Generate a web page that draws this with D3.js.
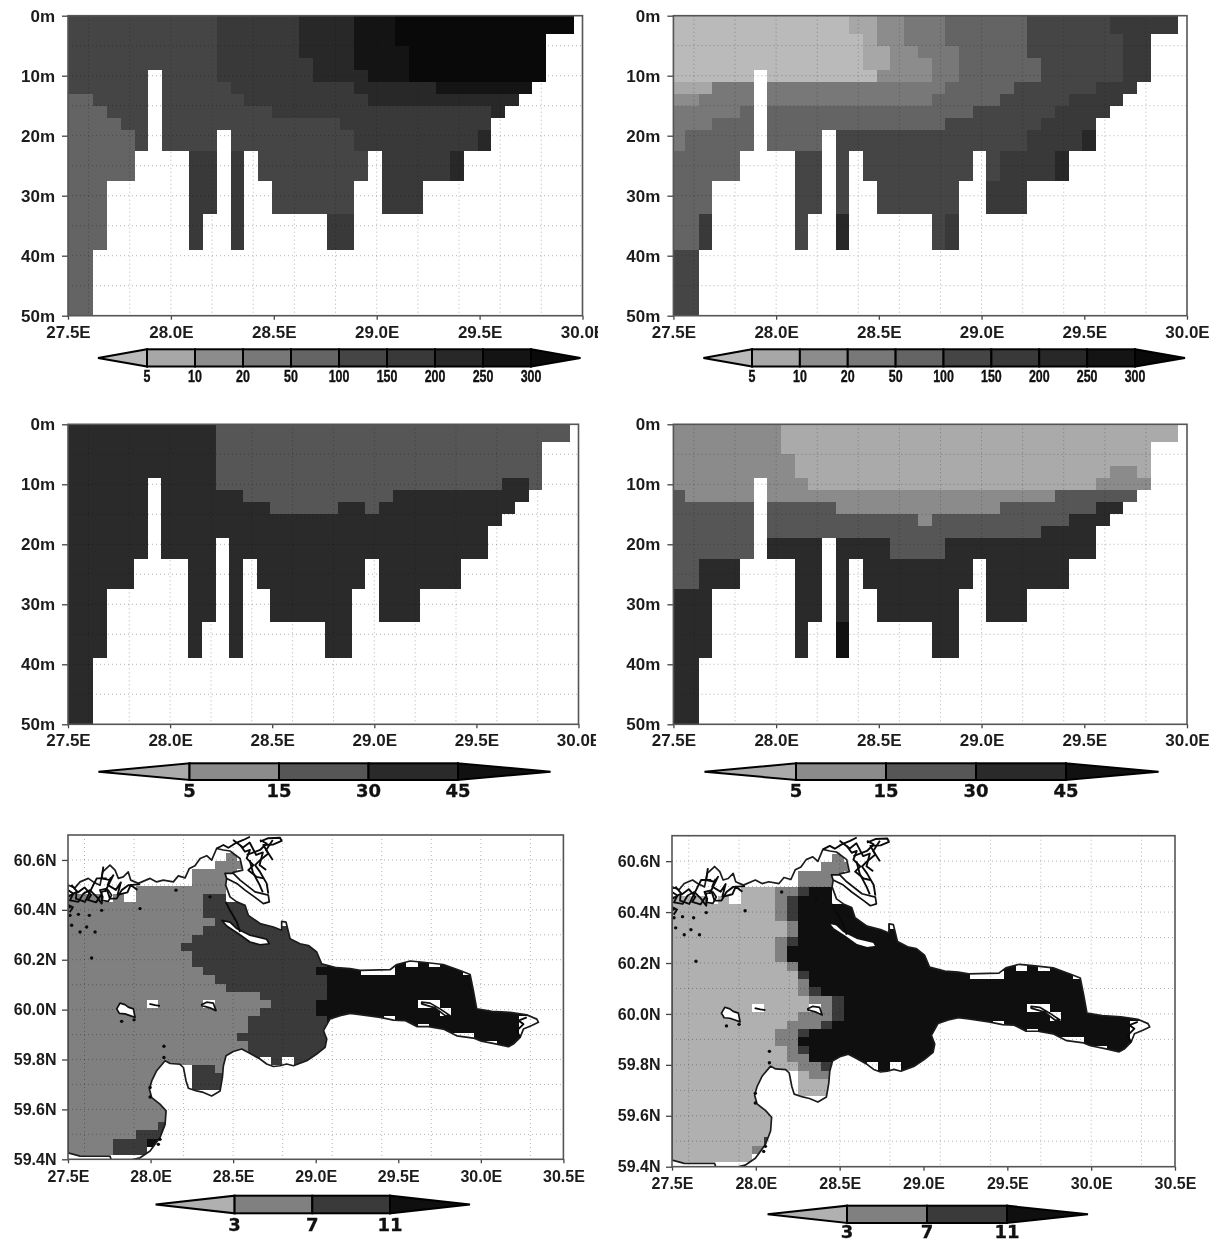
<!DOCTYPE html>
<meta charset="utf-8">
<style>
  body { margin: 0; background: #fff; }
  .axis text { font-family: "Liberation Sans", Arial, sans-serif; font-weight: bold; fill: #1c1c1c; }
  .axis path { display: none; }
  .axis line { stroke: #444; stroke-width: 1.3px; }
  .frame { fill: none; stroke: #555; stroke-width: 1.6px; }
  .grid { stroke: #b4b4b4; stroke-width: 1px; stroke-dasharray: 1 3; mix-blend-mode: multiply; }
  .cell { shape-rendering: crispEdges; }
  .coast { fill: none; stroke: #1c1c1c; stroke-width: 1.7px; stroke-linejoin: round; }
  .tangle { fill: none; stroke: #0a0a0a; stroke-width: 1.9px; stroke-linejoin: round; }
  .islet { fill: #fff; stroke: #111; stroke-width: 1.7px; stroke-linejoin: round; }
  .bar { stroke: #000; stroke-width: 2px; stroke-linejoin: miter; }
</style>

<body>
  <script src="https://d3js.org/d3.v7.min.js"></script>
  <div id="chart"></div>
  <script>
    // depth section grid
    var depthEdges = [0, 3, 5, 7, 9, 11, 13, 15, 17, 19, 22.5, 27.5, 33, 39, 50]
    // how many depth layers hold water in each longitude column
    var sectionBottom = [14, 14, 13, 11, 11, 10, 4, 10, 10, 13, 12, 9, 13, 10, 11, 12, 12, 12, 12, 13, 13, 11, 10, 12, 12, 12, 11, 11, 11, 10, 10, 8, 7, 6, 5, 1, 1]

    // each row is one depth layer, written as "class:endColumn" runs
    var sectionTopLeft = [
      "5:11 6:17 7:21 8:24 9:37", "5:11 6:17 7:21 8:24 9:37", "5:11 6:17 7:21 8:25 9:37",
      "5:11 6:18 7:21 8:25 9:37", "5:11 6:18 7:22 8:25 9:37", "5:12 6:21 7:27 8:37",
      "4:2 5:13 6:22 7:37", "4:3 5:15 6:31 7:37", "4:4 5:20 6:37", "4:5 5:21 6:30 7:37",
      "4:5 5:9 6:13 5:22 6:28 7:37", "4:5 6:13 5:22 6:37", "4:5 6:37", "4:37"]
    var sectionTopRight = [
      "0:13 1:15 2:17 3:20 4:26 5:32 6:37", "0:14 1:15 2:17 3:20 4:26 5:33 6:37", "0:14 1:16 2:18 3:21 4:26 5:33 6:37",
      "0:14 1:16 2:19 3:21 4:27 5:33 6:37", "0:15 2:19 3:21 4:27 5:33 6:37", "1:3 3:20 4:25 5:31 6:37",
      "2:2 3:19 4:24 5:29 6:37", "3:5 4:22 5:28 6:37", "3:3 4:20 5:27 6:37", "3:1 4:11 5:26 6:30 7:37",
      "4:5 5:24 6:28 7:37", "4:3 5:23 6:37", "4:2 6:3 5:12 7:13 5:20 6:37", "5:37"]
    var sectionMidLeft = [
      "3:11 2:37", "3:11 2:37", "3:11 2:37", "3:11 2:37", "3:11 2:32 3:34 2:37", "3:13 2:24 3:37",
      "3:15 2:20 3:22 2:23 3:37", "3:37", "3:37", "3:37", "3:37", "3:37", "3:37", "3:37"]
    var sectionMidRight = [
      "1:8 0:37", "1:8 0:37", "1:9 0:37", "1:9 0:32 1:34 0:37", "1:10 0:31 1:37", "2:1 1:28 2:37",
      "2:12 1:24 2:31 3:37", "2:18 1:19 2:29 3:37", "2:27 3:37", "2:7 3:16 2:20 3:37",
      "2:2 3:37", "3:37", "3:12 4:13 3:37", "3:37"]

    // map panels, one row per latitude band from the north
    var mapLeft = [
      ".:44", ".:44", ".:14 1:15 .:44", ".:13 1:16 .:44", ".:11 1:15 .:44", ".:11 1:14 .:15 1:16 .:44",
      ".:6 1:14 .:44", "1:3 .:4 1:5 .:6 1:12 2:14 .:44", "1:12 2:17 .:44", "1:12 2:18 .:44",
      "1:13 2:19 .:44", "1:12 2:20 .:44", "1:11 2:22 .:44", "1:10 2:23 .:44", "1:11 2:23 .:44",
      "1:11 2:23 3:44", "1:12 2:22 3:44", "1:13 2:23 3:44", "1:14 2:23 3:44", "1:17 2:23 3:44",
      "1:18 2:22 3:44", "1:17 2:22 3:44", "1:16 2:23 3:40 .:44", "1:16 2:24 3:40 .:44", "1:15 2:24 3:40 .:44",
      "1:16 2:24 3:40 .:44", "1:16 2:24 3:40 .:44", "1:14 .:16 2:17 .:18 2:19 .:20 2:24 .:44",
      "1:9 .:11 2:13 1:14 .:44", "1:9 .:11 2:14 .:44", "1:9 .:11 2:14 .:44", "1:9 .:44", "1:9 .:44",
      "1:9 .:44", "1:9 .:44", "1:8 2:9 .:44", "1:6 2:9 .:44", "1:4 2:7 3:8 2:9 .:44", "1:4 2:7 .:44", ".:44"]
    var mapRight = [
      ".:44", ".:44", ".:14 1:15 .:44", ".:13 1:16 .:44", ".:11 1:15 .:44", ".:11 1:14 .:15 2:16 .:44",
      ".:6 0:9 1:11 2:12 3:14 .:44", "0:3 .:4 0:5 .:6 0:9 1:10 2:11 3:14 .:44", "0:9 1:10 2:11 3:17 .:44",
      "0:9 1:10 2:11 3:18 .:44", "0:10 1:11 3:19 .:44", "0:10 1:11 3:20 .:44", "0:9 1:10 2:11 3:22 .:44",
      "0:9 1:10 3:23 .:44", "0:9 1:10 3:23 .:44", "0:10 1:11 3:44", "0:11 2:12 3:44", "0:11 1:12 3:44",
      "0:11 1:12 2:13 3:44", "0:12 1:14 2:15 3:44", "0:13 1:14 2:15 3:44", "0:11 1:14 2:15 3:44",
      "0:10 1:13 2:14 3:40 .:44", "0:9 1:11 2:12 3:40 .:44", "0:9 1:11 3:40 .:44", "0:10 1:11 2:12 3:40 .:44",
      "0:10 1:12 3:40 .:44", "0:11 1:13 2:14 .:16 3:17 .:18 3:19 .:20 3:24 .:44", "0:9 .:11 0:12 1:14 .:44",
      "0:9 .:11 0:14 .:44", "0:9 .:11 0:14 .:44", "0:9 .:44", "0:9 .:44", "0:9 .:44", "0:9 .:44", "0:9 .:44",
      "0:8 2:9 .:44", "0:7 1:8 2:9 .:44", "0:7 .:44", ".:44"]
    // cells [column, row] with no data next to the shore, same in both maps
    var landCells = [[26, 16], [27, 16], [28, 16], [35, 16], [30, 15], [32, 15], [31, 20], [32, 20], [33, 21],
      [28, 22], [31, 23], [34, 24], [35, 24], [37, 25], [7, 20], [12, 20]]

    // coastline, lon / lat
    var coastLon = [27.5, 27.542, 27.573, 27.623, 27.653, 27.694, 27.71, 27.754, 27.785, 27.805, 27.835, 27.865, 27.88, 27.926, 27.997, 28.037, 28.077, 28.138, 28.168, 28.209, 28.235, 28.269, 28.3, 28.34, 28.37, 28.4, 28.441, 28.481, 28.542, 28.558, 28.501, 28.461, 28.455, 28.481, 28.522, 28.572, 28.592, 28.663, 28.744, 28.794, 28.794, 28.82, 28.845, 28.905, 28.956, 29.006, 29.036, 29.127, 29.208, 29.269, 29.45, 29.491, 29.572, 29.652, 29.773, 29.874, 29.935, 29.955, 29.975, 30.066, 30.177, 30.278, 30.339, 30.349, 30.308, 30.258, 30.238, 30.197, 30.167, 30.096, 29.996, 29.955, 29.854, 29.773, 29.683, 29.612, 29.541, 29.471, 29.39, 29.269, 29.208, 29.148, 29.087, 29.047, 29.067, 29.057, 29.006, 28.946, 28.865, 28.824, 28.784, 28.744, 28.703, 28.663, 28.592, 28.552, 28.501, 28.457, 28.441, 28.435, 28.421, 28.37, 28.32, 28.279, 28.229, 28.215, 28.199, 28.178, 28.118, 28.088, 28.037, 28.007, 27.993, 28.007, 28.057, 28.094, 28.088, 28.057, 27.997, 27.936, 27.855, 27.764, 27.754, 27.573, 27.5]
    var coastLat = [60.499, 60.488, 60.512, 60.526, 60.512, 60.499, 60.552, 60.579, 60.559, 60.526, 60.532, 60.552, 60.519, 60.506, 60.526, 60.512, 60.519, 60.512, 60.536, 60.528, 60.566, 60.577, 60.606, 60.617, 60.599, 60.646, 60.64, 60.636, 60.606, 60.559, 60.55, 60.526, 60.499, 60.452, 60.432, 60.418, 60.378, 60.345, 60.331, 60.318, 60.354, 60.351, 60.284, 60.264, 60.257, 60.231, 60.184, 60.168, 60.164, 60.157, 60.16, 60.181, 60.195, 60.19, 60.181, 60.157, 60.141, 60.076, 60.003, 59.993, 59.989, 59.979, 59.962, 59.949, 59.936, 59.922, 59.889, 59.862, 59.851, 59.862, 59.875, 59.886, 59.895, 59.922, 59.932, 59.932, 59.956, 59.958, 59.969, 59.98, 59.985, 59.976, 59.963, 59.916, 59.882, 59.849, 59.822, 59.795, 59.775, 59.782, 59.775, 59.772, 59.782, 59.802, 59.828, 59.842, 59.832, 59.815, 59.775, 59.728, 59.674, 59.654, 59.668, 59.674, 59.685, 59.714, 59.768, 59.781, 59.784, 59.795, 59.755, 59.714, 59.681, 59.647, 59.621, 59.594, 59.54, 59.487, 59.433, 59.406, 59.393, 59.393, 59.413, 59.413, 59.426]

    // islands, closed outlines
    var islandBjorko = [[28.431, 60.358], [28.481, 60.351], [28.522, 60.325], [28.602, 60.298], [28.703, 60.282], [28.719, 60.264], [28.663, 60.26], [28.602, 60.271], [28.532, 60.304], [28.461, 60.335]]
    var islandNorth = [[28.451, 60.546], [28.501, 60.546], [28.542, 60.519], [28.633, 60.472], [28.713, 60.459], [28.719, 60.432], [28.683, 60.425], [28.643, 60.445], [28.572, 60.479], [28.522, 60.506], [28.461, 60.526]]
    var islandWest = [[27.795, 60.003], [27.815, 60.026], [27.845, 60.02], [27.865, 60.01], [27.896, 60.003], [27.906, 59.969], [27.876, 59.976], [27.845, 59.983], [27.811, 59.985]]
    var islandMiddle = [[28.31, 60.02], [28.34, 60.03], [28.38, 60.026], [28.396, 59.996], [28.36, 60.007], [28.31, 60.016]]
    var islandEast = [[29.642, 60.03], [29.693, 60.026], [29.753, 60.003], [29.814, 59.976], [29.784, 59.976], [29.723, 60.007], [29.642, 60.023]]
    var islandSkerry = [[27.704, 60.472], [27.744, 60.479], [27.764, 60.459], [27.744, 60.434], [27.704, 60.438]]
    var islands = [islandBjorko, islandNorth, islandWest, islandMiddle, islandEast, islandSkerry]

    // skerry scribbles that are open lines
    var skerryLines = [
      [[28.4, 60.646], [28.441, 60.66], [28.471, 60.649], [28.512, 60.666], [28.562, 60.68], [28.602, 60.693]],
      [[28.542, 60.66], [28.572, 60.633], [28.602, 60.64], [28.582, 60.606], [28.623, 60.579], [28.592, 60.559], [28.643, 60.532], [28.683, 60.526]],
      [[28.663, 60.673], [28.713, 60.687], [28.784, 60.689], [28.794, 60.676], [28.744, 60.662], [28.683, 60.66], [28.713, 60.626], [28.663, 60.599], [28.633, 60.579], [28.663, 60.552], [28.703, 60.506], [28.713, 60.465]],
      [[28.582, 60.62], [28.663, 60.64], [28.703, 60.666], [28.663, 60.68]],
      [[28.455, 60.432], [28.481, 60.398], [28.522, 60.351], [28.542, 60.311]],
      [[27.5, 60.479], [27.532, 60.465], [27.512, 60.438], [27.563, 60.432], [27.593, 60.465], [27.633, 60.479], [27.674, 60.452], [27.704, 60.425], [27.71, 60.452], [27.694, 60.479], [27.734, 60.485], [27.754, 60.445], [27.795, 60.445], [27.825, 60.479], [27.865, 60.499], [27.936, 60.502]],
      [[27.5, 60.452], [27.552, 60.472], [27.548, 60.445], [27.603, 60.432], [27.653, 60.499], [27.674, 60.526], [27.734, 60.526]],
      [[27.714, 60.573], [27.704, 60.526], [27.754, 60.519], [27.775, 60.539], [27.724, 60.472]],
      [[27.52, 60.5], [27.56, 60.47], [27.6, 60.49], [27.64, 60.46], [27.62, 60.44], [27.67, 60.43], [27.7, 60.46]],
      [[27.76, 60.53], [27.74, 60.5], [27.79, 60.48], [27.82, 60.51], [27.8, 60.46], [27.86, 60.47], [27.88, 60.5], [27.92, 60.48]],
      [[27.5, 60.42], [27.53, 60.41], [27.51, 60.39]],
      [[28.5, 60.68], [28.56, 60.65], [28.6, 60.67], [28.64, 60.62], [28.68, 60.63], [28.66, 60.58], [28.7, 60.56]],
      [[28.6, 60.6], [28.62, 60.55], [28.66, 60.5], [28.68, 60.47]],
      [[28.74, 60.68], [28.7, 60.64], [28.74, 60.6]],
      [[27.993, 60.023], [28.027, 60.018], [28.057, 60.015]],
      [[30.238, 59.889], [30.218, 59.916], [30.258, 59.942], [30.228, 59.956], [30.278, 59.969]]]
    var speckLon = [27.512, 27.508, 27.563, 27.629, 27.613, 27.573, 27.664, 27.522, 27.643, 27.936, 27.704, 28.154, 28.36, 28.081, 28.081, 27.997, 27.997, 27.825, 27.9, 28.057, 28.047]
    var speckLat = [60.378, 60.412, 60.382, 60.378, 60.331, 60.311, 60.311, 60.338, 60.207, 60.405, 60.398, 60.479, 60.452, 59.853, 59.808, 59.688, 59.65, 59.953, 59.959, 59.48, 59.46]

    // colour classes and colour bar labels
    var fluxGrays = ["#bababa", "#a7a7a7", "#8c8c8c", "#787878", "#646464", "#454545", "#393939", "#282828", "#141414", "#090909"]
    var fluxLabels = ["5", "10", "20", "50", "100", "150", "200", "250", "300"]
    var speedGrays = ["#aaaaaa", "#8b8b8b", "#565656", "#2a2a2a", "#111111"]
    var speedLabels = ["5", "15", "30", "45"]
    var mapGrays = ["#b0b0b0", "#808080", "#3a3a3a", "#0f0f0f"]
    var mapLabels = ["3", "7", "11"]

    // tick labels and dotted grid
    var sectionLonTicks = [27.5, 28, 28.5, 29, 29.5, 30]
    var sectionDepthTicks = [0, 10, 20, 30, 40, 50]
    var sectionGridLon = [27.6, 27.8, 28, 28.2, 28.4, 28.6, 28.8, 29, 29.2, 29.4, 29.6, 29.8]
    var sectionGridDepth = [5, 10, 15, 20, 25, 30, 35, 40, 45]
    var mapLonTicks = [27.5, 28, 28.5, 29, 29.5, 30, 30.5]
    var mapLatTicks = [59.4, 59.6, 59.8, 60, 60.2, 60.4, 60.6]
    var mapGridLon = [27.6, 27.9, 28.2, 28.5, 28.8, 29.1, 29.4, 29.7, 30, 30.3]
    var mapGridLat = [59.5, 59.6, 59.7, 59.8, 59.9, 60, 60.1, 60.2, 60.3, 60.4, 60.5, 60.6]

    var svg = d3.select("#chart").append("svg")
      .attr("width", 1221)
      .attr("height", 1240)
      .style("display", "block")

    var defs = svg.append("defs")
    var clipCount = 0

    function addClip(build) {
      var id = "clip" + (clipCount++)
      build(defs.append("clipPath").attr("id", id))
      return "url(#" + id + ")"
    }

    // "5:11 6:17" -> class per column
    function expandRuns(text) {
      var out = []
      text.split(" ").forEach(function (run) {
        var parts = run.split(":")
        while (out.length < +parts[1]) out.push(parts[0] === "." ? null : +parts[0])
      })
      return out
    }

    function drawAxes(p, x, y, lonTicks, yTicks, yFormat, labelClipRight) {
      var xAxis = d3.axisBottom(x).tickValues(lonTicks).tickSize(4).tickPadding(p.xPad)
        .tickFormat(function (d) { return d.toFixed(1) + "E" })
      var yAxis = d3.axisLeft(y).tickValues(yTicks).tickSize(6).tickPadding(p.yPad).tickFormat(yFormat)

      var holder = svg.append("g")
      if (labelClipRight) {
        holder.attr("clip-path", addClip(function (c) {
          c.append("rect").attr("x", 0).attr("y", 0).attr("width", labelClipRight).attr("height", 1240)
        }))
      }
      holder.append("g").attr("class", "axis").attr("transform", "translate(0," + p.bottom + ")").call(xAxis)
        .selectAll("text").style("font-size", p.fontSize + "px")
      svg.append("g").attr("class", "axis").attr("transform", "translate(" + p.left + ",0)").call(yAxis)
        .selectAll("text").style("font-size", p.fontSize + "px")

      svg.append("rect").attr("class", "frame")
        .attr("x", p.left).attr("y", p.top)
        .attr("width", p.right - p.left).attr("height", p.bottom - p.top)
    }

    function drawGrid(p, x, y, gridLon, gridY) {
      var g = svg.append("g")
      g.selectAll("line.v").data(gridLon).enter().append("line")
        .attr("class", "grid v")
        .attr("x1", function (d) { return x(d) }).attr("x2", function (d) { return x(d) })
        .attr("y1", p.top).attr("y2", p.bottom)
      g.selectAll("line.h").data(gridY).enter().append("line")
        .attr("class", "grid h")
        .attr("x1", p.left).attr("x2", p.right)
        .attr("y1", function (d) { return y(d) }).attr("y2", function (d) { return y(d) })
    }

    function drawColorBar(bar, grays, labels, font) {
      var n = labels.length
      var bx = d3.scaleLinear().domain([0, n - 1]).range([bar.start, bar.end])
      var g = svg.append("g")
      var mid = (bar.top + bar.bottom) / 2

      // end triangles
      g.append("path").attr("class", "bar").attr("fill", grays[0])
        .attr("d", "M" + bar.tipLeft + "," + mid + "L" + bar.start + "," + bar.top + "L" + bar.start + "," + bar.bottom + "Z")
      g.append("path").attr("class", "bar").attr("fill", grays[n])
        .attr("d", "M" + bar.tipRight + "," + mid + "L" + bar.end + "," + bar.top + "L" + bar.end + "," + bar.bottom + "Z")

      g.selectAll("rect").data(d3.range(n - 1)).enter().append("rect")
        .attr("class", "bar")
        .attr("x", function (i) { return bx(i) })
        .attr("y", bar.top)
        .attr("width", function (i) { return bx(i + 1) - bx(i) })
        .attr("height", bar.bottom - bar.top)
        .attr("fill", function (i) { return grays[i + 1] })

      g.selectAll("text").data(labels).enter().append("text")
        .attr("transform", function (d, i) { return "translate(" + bx(i) + "," + bar.labelY + ") scale(" + font.stretch + ",1)" })
        .attr("text-anchor", "middle")
        .style("font-family", font.family)
        .style("font-weight", "bold")
        .style("font-size", font.size + "px")
        .style("fill", "#111")
        .style("stroke", "#111")
        .style("stroke-width", font.heavy + "px")
        .text(function (d) { return d })
    }

    function drawSection(p, rows, grays) {
      var x = d3.scaleLinear().domain([27.5, 30]).range([p.left, p.right])
      var y = d3.scaleLinear().domain([0, 50]).range([p.top, p.bottom])
      var lonEdge = function (k) { return 27.49 + k / 15 }

      var cells = []
      rows.forEach(function (row, r) {
        expandRuns(row).forEach(function (c, k) {
          if (r < sectionBottom[k]) cells.push({ k: k, r: r, c: c })
        })
      })

      svg.append("g")
        .attr("clip-path", addClip(function (c) {
          c.append("rect").attr("x", p.left).attr("y", p.top)
            .attr("width", p.right - p.left).attr("height", p.bottom - p.top)
        }))
        .selectAll("rect").data(cells).enter().append("rect")
        .attr("class", "cell")
        .attr("x", function (d) { return x(lonEdge(d.k)) })
        .attr("width", function (d) { return x(lonEdge(d.k + 1)) - x(lonEdge(d.k)) })
        .attr("y", function (d) { return y(depthEdges[d.r]) })
        .attr("height", function (d) { return y(depthEdges[d.r + 1]) - y(depthEdges[d.r]) })
        .attr("fill", function (d) { return grays[d.c] })

      drawGrid(p, x, y, sectionGridLon, sectionGridDepth)
      p.fontSize = 17
      p.xPad = 6
      p.yPad = 7
      drawAxes(p, x, y, sectionLonTicks, sectionDepthTicks, function (d) { return d + "m" }, p.labelClip)
    }

    function drawMap(p, rows, grays) {
      var x = d3.scaleLinear().domain([27.5, 30.5]).range([p.left, p.right])
      var y = d3.scaleLinear().domain([59.4, 60.7]).range([p.bottom, p.top])
      var lonEdge = function (c) { return 27.5 + c * 0.0683 }
      var latEdge = function (j) { return 60.693 - j * 0.0327 }
      var line = d3.line().x(function (d) { return x(d[0]) }).y(function (d) { return y(d[1]) })
      var coast = coastLon.map(function (lon, i) { return [lon, coastLat[i]] })
      var isLand = function (c, j) { return landCells.some(function (q) { return q[0] === c && q[1] === j }) }

      var cells = []
      rows.forEach(function (row, j) {
        expandRuns(row).forEach(function (c, i) {
          if (c !== null && !isLand(i, j)) cells.push({ i: i, j: j, c: c })
        })
      })

      var frameClip = addClip(function (c) {
        c.append("rect").attr("x", p.left).attr("y", p.top)
          .attr("width", p.right - p.left).attr("height", p.bottom - p.top)
      })
      var seaClip = addClip(function (c) { c.append("path").attr("d", line(coast) + "Z") })

      svg.append("g").attr("clip-path", seaClip)
        .selectAll("rect").data(cells).enter().append("rect")
        .attr("class", "cell")
        .attr("x", function (d) { return x(lonEdge(d.i)) })
        .attr("width", function (d) { return x(lonEdge(d.i + 1)) - x(lonEdge(d.i)) })
        .attr("y", function (d) { return y(latEdge(d.j)) })
        .attr("height", function (d) { return y(latEdge(d.j + 1)) - y(latEdge(d.j)) })
        .attr("fill", function (d) { return grays[d.c] })

      drawGrid(p, x, y, mapGridLon, mapGridLat)

      var shore = svg.append("g").attr("clip-path", frameClip)
      shore.append("path").attr("class", "coast").attr("d", line(coast) + "Z")
      shore.selectAll("path.islet").data(islands).enter().append("path")
        .attr("class", "islet")
        .attr("d", function (d) { return line(d) + "Z" })
      shore.selectAll("path.tangle").data(skerryLines).enter().append("path")
        .attr("class", "tangle")
        .attr("d", line)
      shore.selectAll("circle").data(speckLon).enter().append("circle")
        .attr("cx", function (d) { return x(d) })
        .attr("cy", function (d, i) { return y(speckLat[i]) })
        .attr("r", 1.7)
        .attr("fill", "#0a0a0a")

      p.fontSize = 16
      p.xPad = 7
      p.yPad = 5.5
      drawAxes(p, x, y, mapLonTicks, mapLatTicks, function (d) { return d.toFixed(1) + "N" }, null)
    }

    var narrow = { family: '"Liberation Sans", sans-serif', size: 17, stretch: 0.73, heavy: 0.4 }
    var wide = { family: '"DejaVu Sans", sans-serif', size: 18, stretch: 1, heavy: 0.3 }

    drawSection({ left: 68, right: 582.5, top: 15.7, bottom: 315.7, labelClip: 598 }, sectionTopLeft, fluxGrays)
    drawSection({ left: 673.4, right: 1187, top: 15.7, bottom: 315.7 }, sectionTopRight, fluxGrays)
    drawSection({ left: 68, right: 578.5, top: 424.3, bottom: 724.3, labelClip: 596 }, sectionMidLeft, speedGrays)
    drawSection({ left: 673.4, right: 1187, top: 424.3, bottom: 724.3 }, sectionMidRight, speedGrays)
    drawMap({ left: 68, right: 563.4, top: 835, bottom: 1159.3 }, mapLeft, mapGrays)
    drawMap({ left: 672, right: 1175, top: 835.7, bottom: 1166.7 }, mapRight, mapGrays)

    drawColorBar({ start: 147, end: 531, tipLeft: 98, tipRight: 580.5, top: 349.3, bottom: 366.5, labelY: 382.3 }, fluxGrays, fluxLabels, narrow)
    drawColorBar({ start: 752, end: 1135, tipLeft: 703.4, tipRight: 1185, top: 349.3, bottom: 366.5, labelY: 382.3 }, fluxGrays, fluxLabels, narrow)
    drawColorBar({ start: 189.5, end: 458, tipLeft: 98.4, tipRight: 550.6, top: 763.3, bottom: 780, labelY: 796.5 }, speedGrays, speedLabels, wide)
    drawColorBar({ start: 796, end: 1066, tipLeft: 704.5, tipRight: 1158.6, top: 763.3, bottom: 780, labelY: 796.5 }, speedGrays, speedLabels, wide)
    drawColorBar({ start: 234.6, end: 390, tipLeft: 155.6, tipRight: 470, top: 1195.7, bottom: 1213.3, labelY: 1230.5 }, mapGrays, mapLabels, wide)
    drawColorBar({ start: 847, end: 1007, tipLeft: 767.6, tipRight: 1088, top: 1205.7, bottom: 1223, labelY: 1237.5 }, mapGrays, mapLabels, wide)
  </script>
</body>
